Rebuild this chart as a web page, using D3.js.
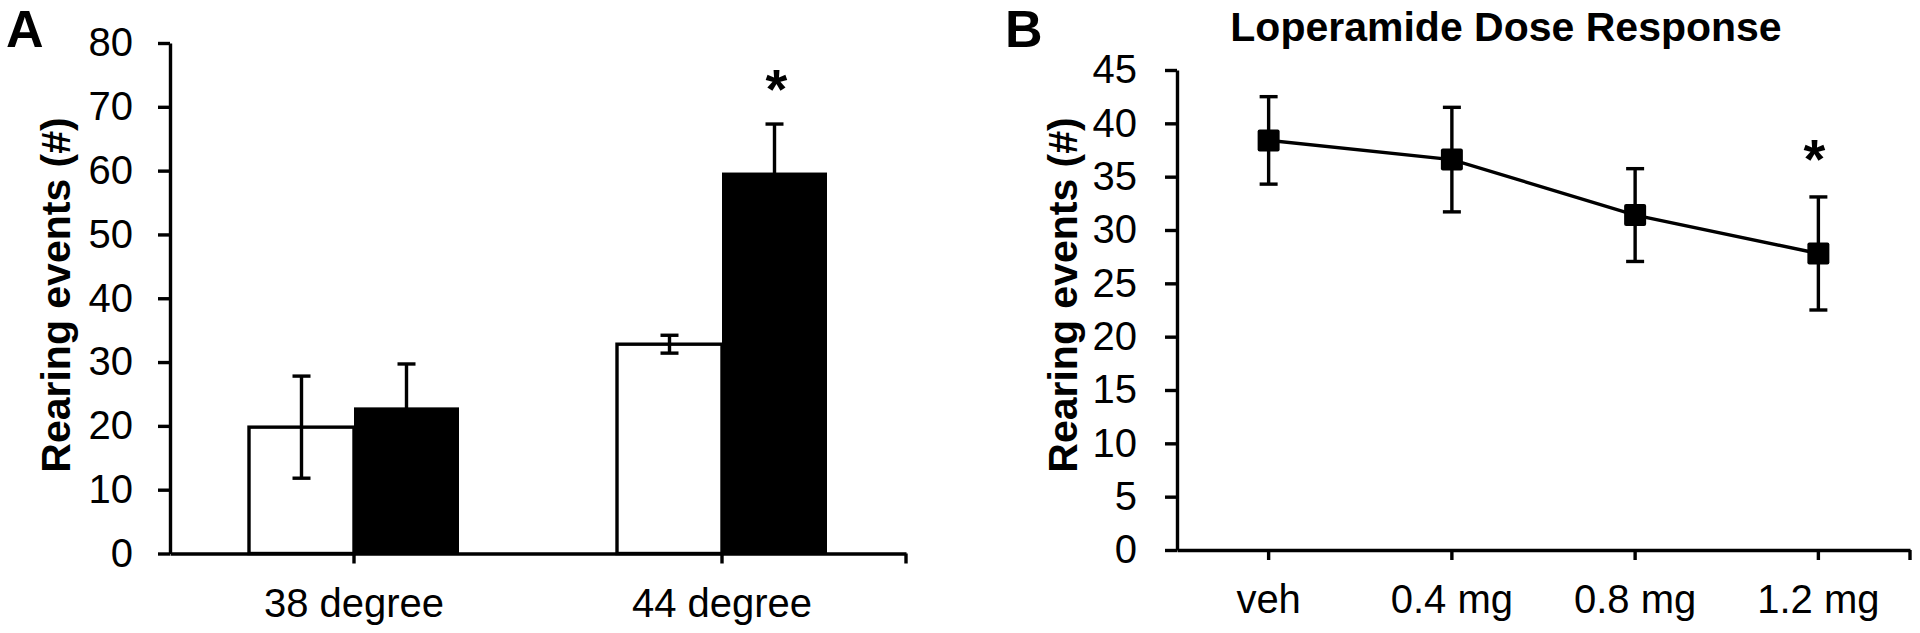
<!DOCTYPE html>
<html>
<head>
<meta charset="utf-8">
<script src="https://cdn.jsdelivr.net/npm/d3@7"></script>
<style>
    body { margin: 0; background: #fff; }
    text { font-family: "Liberation Sans", Arial, sans-serif; fill: #000; }
</style>
</head>
<body>
<div id="chart"></div>
<script>
// panel A data: rearing at two temperatures, open vs filled bars
var groupsA = ["38 degree", "44 degree"];
var meanOpen = [19.8, 32.8];
var errOpen = [8.0, 1.4];
var meanFilled = [22.9, 59.7];
var errFilled = [6.8, 7.6];
var starFilled = [false, true];

// panel B data: loperamide dose response
var doses = ["veh", "0.4 mg", "0.8 mg", "1.2 mg"];
var meanDose = [38.4, 36.6, 31.4, 27.8];
var errDose = [4.1, 4.9, 4.35, 5.3];
var starDose = [false, false, false, true];

var width = 1920, height = 633;
var lw = 3.4;

var svg = d3.select("#chart")
    .append("svg")
    .attr("width", width)
    .attr("height", height);

// draws one error bar (with caps) at x, between lo and hi pixel values
function errorBar(g, x, lo, hi, cap) {
    g.append("line").attr("x1", x).attr("x2", x).attr("y1", lo).attr("y2", hi);
    g.append("line").attr("x1", x - cap / 2).attr("x2", x + cap / 2).attr("y1", hi).attr("y2", hi);
    g.append("line").attr("x1", x - cap / 2).attr("x2", x + cap / 2).attr("y1", lo).attr("y2", lo);
}

function styleAxis(g, size) {
    g.selectAll("path, line").attr("stroke", "#000").attr("stroke-width", lw);
    g.selectAll("text")
        .style("font-family", '"Liberation Sans", Arial, sans-serif')
        .style("font-size", size + "px")
        .attr("fill", "#000");
}

// ---------------- Panel A ----------------
var yA = d3.scaleLinear().domain([0, 80]).range([553.5, 43]);
var xA = d3.scaleBand().domain(groupsA).range([170, 906]).padding(0);
var barW = 105;

var gA = svg.append("g");

// bars
var barsA = gA.append("g");
groupsA.forEach(function (grp, i) {
    var cx = xA(grp) + xA.bandwidth() / 2;
    barsA.append("rect")
        .attr("x", cx - barW)
        .attr("y", yA(meanOpen[i]))
        .attr("width", barW)
        .attr("height", yA(0) - yA(meanOpen[i]))
        .attr("fill", "#fff")
        .attr("stroke", "#000")
        .attr("stroke-width", lw);
    barsA.append("rect")
        .attr("x", cx)
        .attr("y", yA(meanFilled[i]))
        .attr("width", barW)
        .attr("height", yA(0) - yA(meanFilled[i]))
        .attr("fill", "#000");
});

// error bars
var errA = gA.append("g").attr("stroke", "#000").attr("stroke-width", lw);
groupsA.forEach(function (grp, i) {
    var cx = xA(grp) + xA.bandwidth() / 2;
    errorBar(errA, cx - barW / 2, yA(meanOpen[i] - errOpen[i]), yA(meanOpen[i] + errOpen[i]), 18);
    errorBar(errA, cx + barW / 2, yA(meanFilled[i] - errFilled[i]), yA(meanFilled[i] + errFilled[i]), 18);
    if (starFilled[i]) {
        gA.append("text")
            .attr("x", cx + barW / 2 + 2)
            .attr("y", yA(meanFilled[i] + errFilled[i]) - 42 + 26)
            .attr("text-anchor", "middle")
            .style("font-size", "56px")
            .style("font-weight", "bold")
            .text("*");
    }
});

// axes
var axisYA = gA.append("g")
    .attr("transform", "translate(170,0)")
    .call(d3.axisLeft(yA).ticks(8).tickSize(12).tickSizeOuter(0).tickPadding(25));
styleAxis(axisYA, 40);

var axisXA = gA.append("g")
    .attr("transform", "translate(0," + yA(0) + ")")
    .call(d3.axisBottom(xA).tickSize(10).tickSizeOuter(0).tickPadding(25));
axisXA.append("line")
    .attr("x1", xA.range()[1]).attr("x2", xA.range()[1])
    .attr("y1", 0).attr("y2", 10);
styleAxis(axisXA, 40);

gA.append("text")
    .attr("transform", "translate(70,295) rotate(-90)")
    .attr("text-anchor", "middle")
    .style("font-size", "41px")
    .style("font-weight", "bold")
    .text("Rearing events (#)");

gA.append("text")
    .attr("x", 6).attr("y", 47)
    .style("font-size", "52px")
    .style("font-weight", "bold")
    .text("A");

// ---------------- Panel B ----------------
var yB = d3.scaleLinear().domain([0, 45]).range([550, 70]);
var xB = d3.scaleBand().domain(doses).range([1177, 1910]).padding(0);
var gB = svg.append("g");

var axisYB = gB.append("g")
    .attr("transform", "translate(1177,0)")
    .call(d3.axisLeft(yB).ticks(10).tickSize(12).tickSizeOuter(0).tickPadding(28));
styleAxis(axisYB, 40);

var axisXB = gB.append("g")
    .attr("transform", "translate(0," + yB(0) + ")")
    .call(d3.axisBottom(xB).tickSize(10).tickSizeOuter(0).tickPadding(25));
axisXB.append("line")
    .attr("x1", xB.range()[1]).attr("x2", xB.range()[1])
    .attr("y1", 0).attr("y2", 10);
styleAxis(axisXB, 40);

var pts = doses.map(function (d, i) {
    return { x: xB(d) + xB.bandwidth() / 2, m: meanDose[i], e: errDose[i], star: starDose[i] };
});

// connecting line
gB.append("path")
    .datum(pts)
    .attr("fill", "none")
    .attr("stroke", "#000")
    .attr("stroke-width", lw)
    .attr("d", d3.line().x(function (d) { return d.x; }).y(function (d) { return yB(d.m); }));

// error bars
var errB = gB.append("g").attr("stroke", "#000").attr("stroke-width", lw);
pts.forEach(function (p) {
    errorBar(errB, p.x, yB(p.m - p.e), yB(p.m + p.e), 18);
});

// square markers
gB.selectAll("rect.marker")
    .data(pts)
    .enter()
    .append("rect")
    .attr("class", "marker")
    .attr("x", function (d) { return d.x - 11; })
    .attr("y", function (d) { return yB(d.m) - 11; })
    .attr("width", 22)
    .attr("height", 22)
    .attr("rx", 2)
    .attr("fill", "#000");

pts.forEach(function (p) {
    if (p.star) {
        gB.append("text")
            .attr("x", p.x - 4)
            .attr("y", yB(p.m + p.e) - 45 + 26)
            .attr("text-anchor", "middle")
            .style("font-size", "56px")
            .style("font-weight", "bold")
            .text("*");
    }
});

gB.append("text")
    .attr("transform", "translate(1077,295) rotate(-90)")
    .attr("text-anchor", "middle")
    .style("font-size", "41px")
    .style("font-weight", "bold")
    .text("Rearing events (#)");

gB.append("text")
    .attr("x", 1506).attr("y", 41)
    .attr("text-anchor", "middle")
    .style("font-size", "41px")
    .style("font-weight", "bold")
    .text("Loperamide Dose Response");

gB.append("text")
    .attr("x", 1005).attr("y", 47)
    .style("font-size", "52px")
    .style("font-weight", "bold")
    .text("B");
</script>
</body>
</html>
